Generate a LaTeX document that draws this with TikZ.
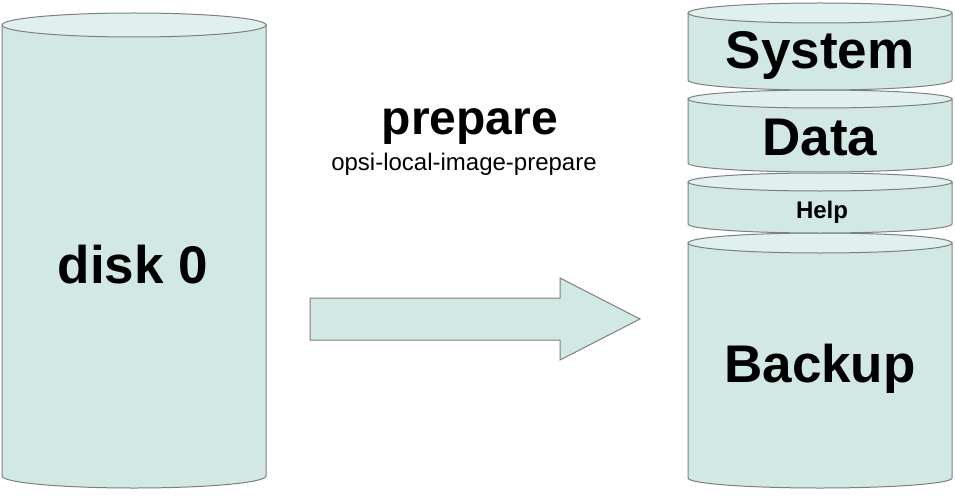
\documentclass[tikz,border=0pt]{standalone}
\usepackage{fontspec}
\setmainfont{Liberation Sans}
\definecolor{body}{HTML}{D1E8E4}
\definecolor{topc}{HTML}{E0F0EE}
\definecolor{edge}{HTML}{7F7F7F}
\newcommand{\cyl}[5]{% x1 x2 ytop ybot ry
  \pgfmathsetmacro{\rx}{(#2-#1)/2}
  \fill[body,draw=edge,line width=1pt] (#1,#3) -- (#1,#4) arc[start angle=180,end angle=360,x radius=\rx,y radius=-#5] -- (#2,#3) -- cycle;
  \draw[fill=topc,draw=edge,line width=1pt] ({(#1+#2)/2},#3) ellipse[x radius=\rx,y radius=#5];
}
\begin{document}
\begin{tikzpicture}[x=1pt,y=-1pt,
  big/.style={font=\bfseries\fontsize{53}{53}\selectfont},
  lbl/.style={inner sep=0pt}]
\useasboundingbox (0,0) rectangle (955,500);
\fill[white] (0,0) rectangle (955,500);
\cyl{2}{266}{25}{476}{12}
\node[lbl,font=\bfseries\fontsize{53}{53}\selectfont] (d0) at (133,265) {disk 0};
\cyl{688}{952}{243}{478}{10}
\cyl{688}{952}{182}{224}{9}
\cyl{688}{952}{99}{163}{9}
\cyl{688}{952}{13}{80}{10}
\node[lbl,big] (sys) at (820,55) {System};
\node[lbl,big] (dat) at (820,138) {Data};
\node[lbl,font=\bfseries\fontsize{24}{24}\selectfont] (hlp) at (822,212) {Help};
\node[lbl,big] (bak) at (820,369) {Backup};
\node[lbl,font=\bfseries\fontsize{48}{48}\selectfont] (prep) at (470,127) {prepare};
\node[lbl,font=\fontsize{24}{24}\selectfont] (cmd) at (464,164) {opsi-local-image-prepare};
\draw[fill=body,draw=edge,line width=1pt] (310,298) -- (560,298) -- (560,278) -- (640,319) -- (560,360) -- (560,340) -- (310,340) -- cycle;
\end{tikzpicture}
\end{document}
